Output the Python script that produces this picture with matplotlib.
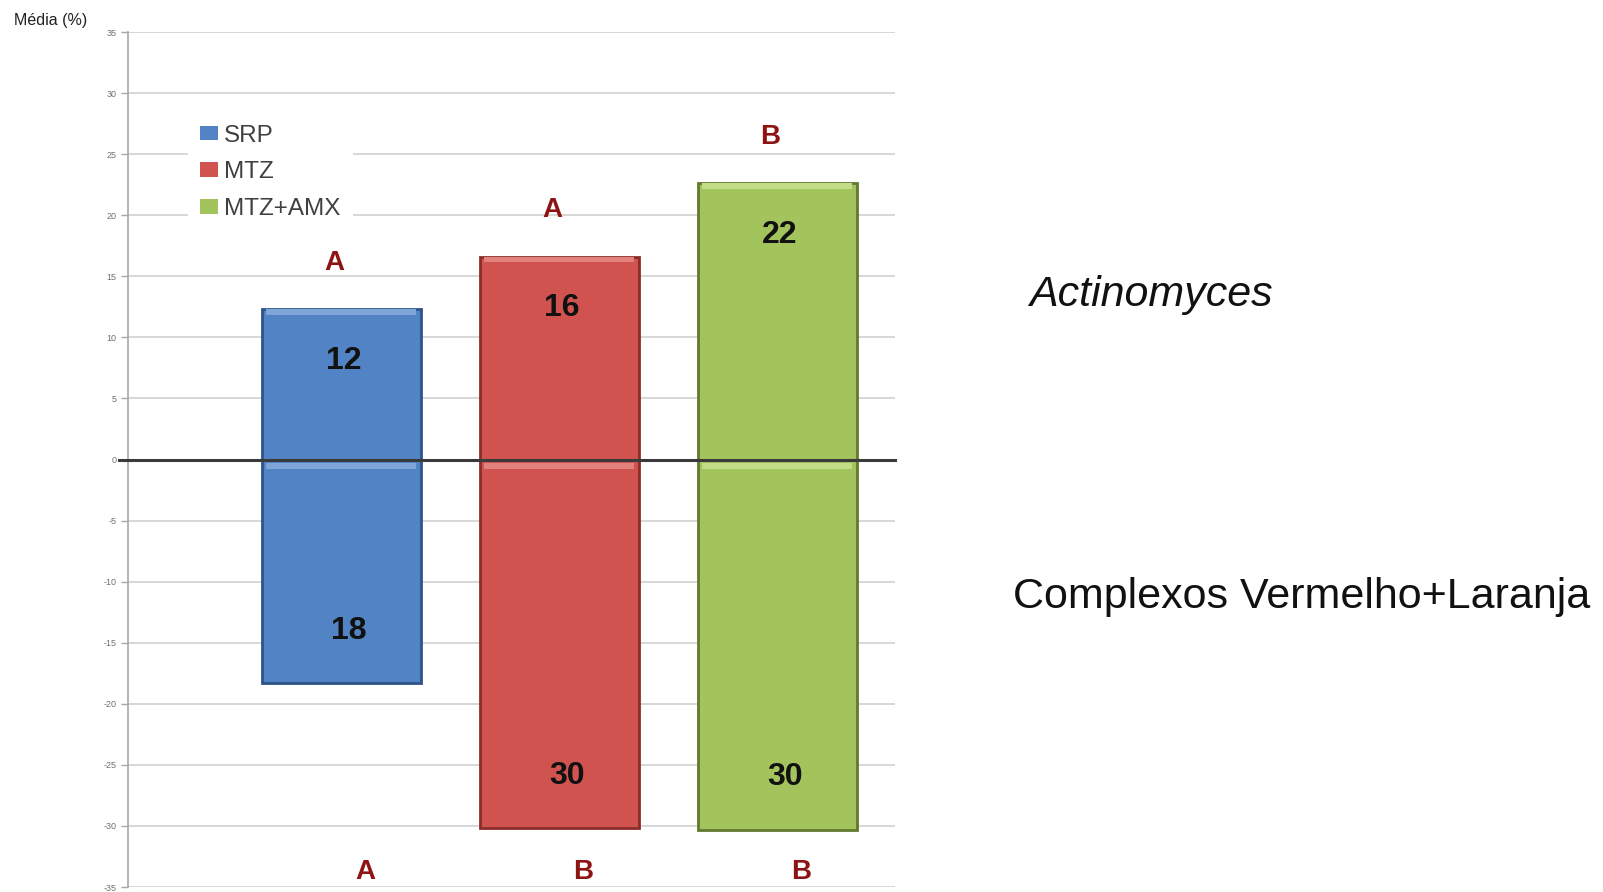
import matplotlib
matplotlib.use("Agg")
import matplotlib.pyplot as plt
from matplotlib.ticker import FuncFormatter, MultipleLocator

# ---- data ----
groups = ["SRP", "MTZ", "MTZ+AMX"]
actinomyces = [12.3, 16.6, 22.6]          # bar heights above zero
complexos = [-18.3, -30.2, -30.3]          # bar heights below zero
actinomyces_labels = ["12", "16", "22"]
complexos_labels = ["18", "30", "30"]
top_letters = ["A", "A", "B"]
bottom_letters = ["A", "B", "B"]
colors = ["#5283c4", "#d0534f", "#a3c35c"]
edge_colors = ["#2e5389", "#8a2d2a", "#62782f"]
highlights = ["#7fa6d9", "#e2817d", "#c3dc86"]

LETTER_COLOR = "#8e1414"

plt.rcParams["font.family"] = ["Liberation Sans", "DejaVu Sans"]

fig = plt.figure(figsize=(16.03, 8.92), dpi=100)
ax = fig.add_axes([0.0799, 0.0056, 0.4785, 0.9585])

x = list(range(len(groups)))
width = 0.73

ax.bar(x, actinomyces, width=width, color=colors, edgecolor=edge_colors,
       linewidth=2, zorder=3)
ax.bar(x, complexos, width=width, color=colors, edgecolor=edge_colors,
       linewidth=2, zorder=3)
# light bevel strip along the outer edge of each bar piece
ax.bar(x, [-0.45] * 3, bottom=actinomyces, width=width * 0.94, color=highlights,
       linewidth=0, zorder=4)
ax.bar(x, [-0.45] * 3, bottom=[-0.3] * 3, width=width * 0.94, color=highlights,
       linewidth=0, zorder=4)

# legend proxies
for g, c in zip(groups, colors):
    ax.bar([0], [0], color=c, label=g)

for xi, v, lab in zip(x, actinomyces, actinomyces_labels):
    ax.text(xi + 0.01, v - 4.2, lab, ha="center", va="center", fontsize=23,
            fontweight="bold", color="#111111", zorder=5)
for xi, v, lab in zip(x, complexos, complexos_labels):
    ax.text(xi + 0.035, v + 4.3, lab, ha="center", va="center", fontsize=23,
            fontweight="bold", color="#111111", zorder=5)

for xi, v, let in zip(x, actinomyces, top_letters):
    ax.text(xi - 0.03, v + 3.8, let, ha="center", va="center", fontsize=20,
            fontweight="bold", color=LETTER_COLOR, zorder=5)
for xi, let in zip(x, bottom_letters):
    ax.text(xi + 0.11, -33.8, let, ha="center", va="center", fontsize=20,
            fontweight="bold", color=LETTER_COLOR, zorder=5)

ax.set_xlim(-0.977, 2.541)
ax.set_ylim(-35, 35)
ax.yaxis.set_major_locator(MultipleLocator(5))
ax.yaxis.set_major_formatter(FuncFormatter(lambda v, p: f"{int(v)}"))
ax.set_xticks([])
ax.grid(axis="y", color="#d4d4d4", lw=1.3, zorder=0)
ax.axhline(0, color="#3a3a3a", lw=2.2, zorder=6, xmin=-0.012, clip_on=False)
for s in ("top", "right", "bottom"):
    ax.spines[s].set_visible(False)
ax.spines["left"].set_color("#a8a8a8")
ax.spines["left"].set_linewidth(1.2)
ax.tick_params(axis="y", colors="#a8a8a8", labelcolor="#6f6f6f", labelsize=6.5,
               length=5, width=1)

leg = ax.legend(loc="upper left", bbox_to_anchor=(0.062, 0.92), fontsize=17.5,
                frameon=True, framealpha=1, facecolor="white", edgecolor="none",
                handlelength=0.75, handleheight=0.55, handletextpad=0.25,
                labelspacing=0.6, borderpad=0.5, fancybox=False)
for t in leg.get_texts():
    t.set_color("#404040")
leg.set_zorder(7)

fig.text(14 / 1603, 1 - 20 / 892, "Média (%)", ha="left", va="center",
         fontsize=11.5, color="#222222", zorder=10,
         bbox=dict(facecolor="white", edgecolor="none", pad=1))

fig.text(1029 / 1603, 1 - 295 / 892, "Actinomyces", ha="left", va="center",
         fontsize=31, style="italic", color="#111111")
fig.text(1013 / 1603, 1 - 597 / 892, "Complexos Vermelho+Laranja", ha="left",
         va="center", fontsize=31, color="#111111")

fig.savefig("out.png", dpi=100)
